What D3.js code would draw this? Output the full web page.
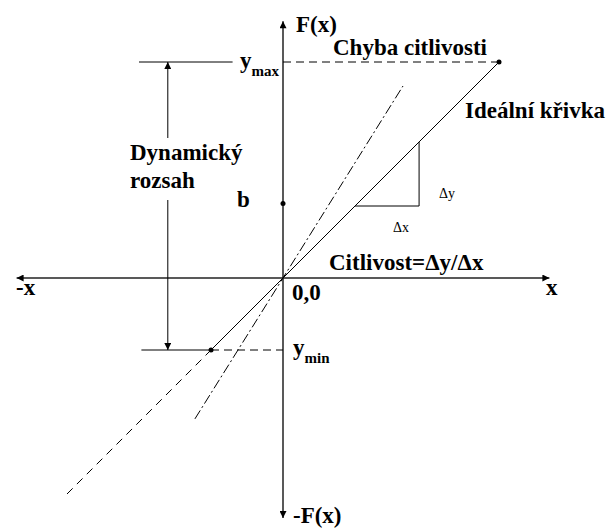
<!DOCTYPE html>
<html>
  <head>
    <meta charset="utf-8" />
    <title>Citlivost</title>
    <script src="https://d3js.org/d3.v7.min.js"></script>
  </head>
  <body style="margin: 0; background: white">
    <svg width="608" height="528"></svg>
    <script>
      // values in chart units (origin = 0,0)
      const axisX = [-11.1, 11.1];
      const axisY = [-10, 10.7];
      const ideal = [[-3, -3], [9, 9]];
      const idealExt = [[-9, -9], [-3, -3]];
      const steep = [[-3.67, -5.87], [5, 8]];
      const yMax = 9, yMin = -3, bVal = 3.1;
      const triangle = [[3, 3], [5.67, 3], [5.67, 5.67]];
      const rangeX = -4.8;
      const yMaxSolid = [-6, -2.1];
      const yMinSolid = [-5.9, -3];

      const svg = d3.select("svg");
      const x = d3.scaleLinear().domain([-12, 12]).range([-5, 571]);
      const y = d3.scaleLinear().domain([-12, 12]).range([566, -10]);
      const line = d3.line().x((d) => x(d[0])).y((d) => y(d[1]));

      const defs = svg.append("defs");
      defs.append("marker")
        .attr("id", "arr")
        .attr("viewBox", "0 0 10 10")
        .attr("refX", 10).attr("refY", 5)
        .attr("markerWidth", 10).attr("markerHeight", 7)
        .attr("markerUnits", "userSpaceOnUse")
        .attr("orient", "auto-start-reverse")
        .append("path").attr("d", "M0,0L10,5L0,10z").attr("fill", "black");

      const g = svg.append("g");

      // axes
      g.append("line")
        .attr("x1", x(axisX[0])).attr("x2", x(axisX[1]))
        .attr("y1", y(0)).attr("y2", y(0))
        .attr("stroke", "#222").attr("stroke-width", 1.5)
        .attr("marker-start", "url(#arr)").attr("marker-end", "url(#arr)");
      g.append("line")
        .attr("x1", x(0)).attr("x2", x(0))
        .attr("y1", y(axisY[0])).attr("y2", y(axisY[1]))
        .attr("stroke", "#222").attr("stroke-width", 1.5)
        .attr("marker-start", "url(#arr)").attr("marker-end", "url(#arr)");

      // curves
      g.append("path").attr("d", line(ideal)).attr("stroke", "black").attr("fill", "none");
      g.append("path").attr("d", line(idealExt)).attr("stroke", "black").attr("fill", "none")
        .attr("stroke-dasharray", "8,6");
      g.append("path").attr("d", line(steep)).attr("stroke", "black").attr("fill", "none")
        .attr("stroke-dasharray", "10,3,2,3");
      g.append("path").attr("d", line(triangle)).attr("stroke", "black").attr("fill", "none");

      // ymax / ymin reference lines
      g.append("path").attr("d", line([[yMaxSolid[0], yMax], [yMaxSolid[1], yMax]]))
        .attr("stroke", "black");
      g.append("path").attr("d", line([[0, yMax], [ideal[1][0], yMax]]))
        .attr("stroke", "black").attr("stroke-dasharray", "8,5");
      g.append("path").attr("d", line([[yMinSolid[0], yMin], [yMinSolid[1], yMin]]))
        .attr("stroke", "black");
      g.append("path").attr("d", line([[yMinSolid[1], yMin], [0, yMin]]))
        .attr("stroke", "black").attr("stroke-dasharray", "8,5");

      // dynamic range arrows
      g.append("line")
        .attr("x1", x(rangeX)).attr("x2", x(rangeX))
        .attr("y1", 138).attr("y2", y(yMax))
        .attr("stroke", "black").attr("marker-end", "url(#arr)");
      g.append("line")
        .attr("x1", x(rangeX)).attr("x2", x(rangeX))
        .attr("y1", 200).attr("y2", y(yMin))
        .attr("stroke", "black").attr("marker-end", "url(#arr)");

      // dots
      g.selectAll(".dot")
        .data([[ideal[1][0], yMax], [ideal[0][0], yMin], [0, bVal]])
        .join("circle")
        .attr("cx", (d) => x(d[0])).attr("cy", (d) => y(d[1]))
        .attr("r", 2.5).attr("fill", "black");

      // labels
      const t = (px, py, txt, size, weight) =>
        g.append("text")
          .attr("x", px).attr("y", py)
          .style("font-family", "Liberation Serif")
          .style("font-size", (size || 23) + "px")
          .style("font-weight", weight || "bold")
          .attr("fill", "black")
          .text(txt);

      t(x(0) + 13, 32, "F(x)");
      t(x(0) + 10, 523, "-F(x)");
      t(333, 55, "Chyba citlivosti");
      t(465, 118, "Ideální křivka");
      t(130, 160, "Dynamický");
      t(130, 188, "rozsah");
      t(237, 207, "b");
      t(329, 270, "Citlivost=Δy/Δx");
      t(292, 300, "0,0");
      t(546, 295, "x");
      t(16, 295, "-x");
      t(439, 198, "Δy", 14, "normal");
      t(393, 232, "Δx", 14, "normal");

      const ymx = t(240, 68, "y");
      ymx.append("tspan").attr("dy", 8).style("font-size", "15px").text("max");
      const ymn = t(293, 355, "y");
      ymn.append("tspan").attr("dy", 8).style("font-size", "15px").text("min");
    </script>
  </body>
</html>
